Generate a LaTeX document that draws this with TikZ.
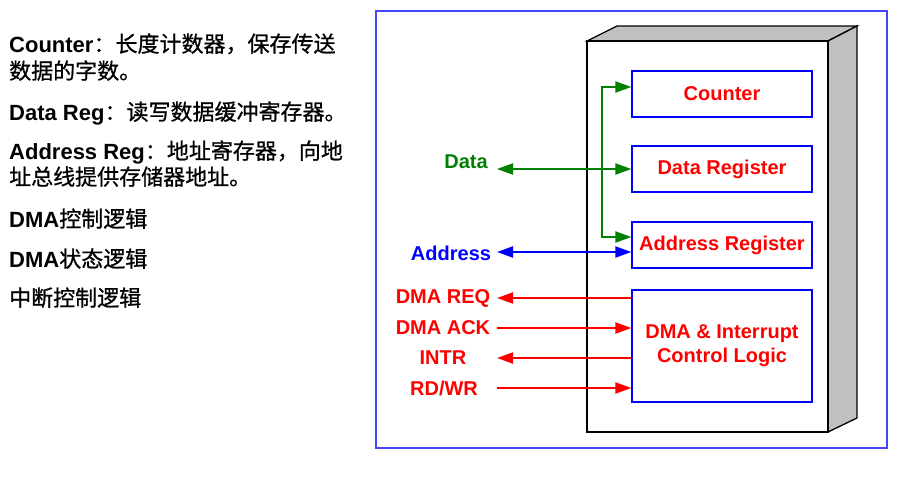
\documentclass[tikz,border=0pt]{standalone}
\usepackage{fontspec}
\setmainfont{Liberation Sans}
\newfontfamily\cjk{Noto Sans CJK SC}[FakeBold=0.8]
\usetikzlibrary{arrows.meta,positioning}

\definecolor{frameblue}{RGB}{70,70,255}
\definecolor{sidegray}{RGB}{192,192,192}
\definecolor{datagreen}{RGB}{0,128,0}

\tikzset{
  reg/.style={draw=blue, line width=1.2pt, minimum width=180pt, minimum height=46pt,
    text=red, font=\fontsize{20}{24}\selectfont\bfseries},
  sig/.style={font=\fontsize{20}{24}\selectfont\bfseries},
  note/.style={anchor=base west, inner sep=0pt, font=\fontsize{22}{26}\selectfont},
  wire/.style={line width=2pt}
}

\begin{document}
\begin{tikzpicture}[x=1pt, y=-1pt, >={Triangle[length=16pt,width=11pt]}]
    \useasboundingbox (0,0) rectangle (919,477);

    % Notes on the left
    \node[note] (n1) at (9,52)  {\textbf{Counter}\cjk：长度计数器，保存传送};
    \node[note] (n2) at (9,79)  {\cjk 数据的字数。};
    \node[note] (n3) at (9,120) {\textbf{Data Reg}\cjk：读写数据缓冲寄存器。};
    \node[note] (n4) at (9,159) {\textbf{Address Reg}\cjk：地址寄存器，向地};
    \node[note] (n5) at (9,185) {\cjk 址总线提供存储器地址。};
    \node[note] (n6) at (9,227) {\textbf{DMA}\cjk 控制逻辑};
    \node[note] (n7) at (9,267) {\textbf{DMA}\cjk 状态逻辑};
    \node[note] (n8) at (9,306) {\cjk 中断控制逻辑};

    % Frame and the controller box
    \draw[frameblue, line width=1.3pt] (376,11) rectangle (887,448);
    \draw[line width=1.3pt, fill=sidegray] (587,41) -- (617,26) -- (857,26) -- (828,41) -- cycle;
    \draw[line width=1.3pt, fill=sidegray] (828,41) -- (857,26) -- (857,418) -- (828,432) -- cycle;
    \draw[line width=1.3pt, fill=white] (587,41) rectangle (828,432);

    % Draw the registers
    \node[reg] (counter) at (722,94) {Counter};
    \node[reg, below=27.8pt of counter] (datareg) {Data Register};
    \node[reg, below=28.8pt of datareg] (addrreg) {Address Register};
    \node[reg, below=20.8pt of addrreg, minimum height=112pt, align=center] (dmalogic)
        {DMA \& Interrupt\\Control Logic};

    % Signal labels
    \node[sig, text=datagreen] (datalbl) at (466,162) {Data};
    \node[sig, text=blue]      (addrlbl) at (451,253) {Address};
    \node[sig, text=red]       (reqlbl)  at (443,298) {DMA REQ};
    \node[sig, text=red]       (acklbl)  at (443,328) {DMA ACK};
    \node[sig, text=red]       (intrlbl) at (443,358) {INTR};
    \node[sig, text=red]       (rdwrlbl) at (444,388) {RD/WR};

    \coordinate (dataend) at (497,169);
    \coordinate (hub)     at (602,169);
    \coordinate (addrend) at (497,252);
    \coordinate (reqend)  at (497,298);
    \coordinate (ackend)  at (497,328);
    \coordinate (intrend) at (497,358);
    \coordinate (rdwrend) at (497,388);

    % Connect the signals with arrows
    \draw[wire, datagreen, <->] (dataend) -- (datareg.west |- dataend);
    \draw[wire, datagreen, ->] (hub) |- ([yshift=7pt]counter.west);
    \draw[wire, datagreen, ->] (hub) |- ([yshift=8pt]addrreg.west);
    \draw[wire, blue, <->] (addrend) -- (addrreg.west |- addrend);
    \draw[wire, red, <-] (reqend) -- (dmalogic.west |- reqend);
    \draw[wire, red, ->] (ackend) -- (dmalogic.west |- ackend);
    \draw[wire, red, <-] (intrend) -- (dmalogic.west |- intrend);
    \draw[wire, red, ->] (rdwrend) -- (dmalogic.west |- rdwrend);
\end{tikzpicture}
\end{document}
